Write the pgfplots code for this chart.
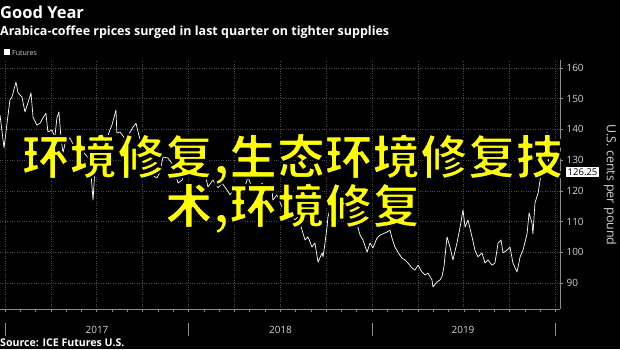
\documentclass[border=0pt]{standalone}
\usepackage{pgfplots}
\pgfplotsset{compat=1.18}
\usepackage{fontspec}
\setmainfont{Open Sans}
\newfontfamily\cjk{Noto Sans CJK SC}
\definecolor{txtgray}{HTML}{D2D2D2}
\definecolor{gridgray}{HTML}{4A4A4A}
\definecolor{axgray}{HTML}{8C8C8C}
\definecolor{cjkyellow}{HTML}{FFFF00}
\newcommand\cjkline[3]{%
  \node[anchor=base, inner sep=0pt, text=cjkyellow, font=\cjk\bfseries\fontsize{47.7}{52}\selectfont] at (#1,#2) {\special{pdf:literal direct 0 0 0 RG 2 Tr 2.2 w 1 j}#3\special{pdf:literal direct 0 Tr}};}
\begin{document}
\begin{tikzpicture}
\useasboundingbox (0pt,0pt) rectangle (620pt,-349pt);
\fill[black] (0pt,0pt) rectangle (620pt,-349pt);
\begin{axis}[
  at={(0pt,-309pt)}, anchor=south west,
  scale only axis, width=560pt, height=249pt,
  xmin=2016.973, xmax=2020.0245, ymin=81.52, ymax=162.6,
  axis x line*=bottom, axis y line*=right,
  axis line style={axgray, line width=0.6pt},
  xtick={2017,2017.25,2017.5,2017.75,2018,2018.25,2018.5,2018.75,2019,2019.25,2019.5,2019.75,2020},
  minor x tick num=2,
  xticklabels={},
  ytick={90,100,110,120,130,140,150,160},
  /pgf/number format/assume math mode=true,
  y tick label style={font=\fontsize{10}{12}\selectfont, text=txtgray},
  tick align=outside,
  major tick length=3pt, minor tick length=3pt,
  tick style={axgray, line width=0.5pt},
  grid=major,
  major grid style={gridgray, dotted, line width=0.6pt},
]
\addplot[white, line width=0.7pt, line join=round] coordinates {
(2016.973,144.7) (2016.995,134) (2017.027,149.6) (2017.038,150.5) (2017.060,155.4)
(2017.071,152) (2017.093,150.5) (2017.109,145.7) (2017.125,148.6) (2017.142,151.9)
(2017.153,144) (2017.174,141.4) (2017.191,142) (2017.207,143.7) (2017.223,145.3)
(2017.234,139.2) (2017.256,139.8) (2017.272,137.5) (2017.283,143.7) (2017.294,145.7)
(2017.305,137.5) (2017.316,132.3) (2017.332,136.6) (2017.354,137.2) (2017.381,134)
(2017.409,135) (2017.436,132) (2017.463,130) (2017.480,117) (2017.490,126.8)
(2017.518,131) (2017.545,135) (2017.572,139.8) (2017.583,141.4) (2017.605,146.3)
(2017.610,138.8) (2017.627,139.2) (2017.654,137) (2017.681,139) (2017.698,140.8)
(2017.714,142) (2017.736,136.6) (2017.763,132) (2017.790,127) (2017.801,125.2)
(2017.828,124.2) (2017.845,126.1) (2017.861,131) (2017.888,130.7) (2017.916,128.4)
(2017.943,122.5) (2017.965,123.5) (2017.981,125.8) (2017.997,126) (2018.025,125.8)
(2018.063,124) (2018.090,125.8) (2018.106,121.3) (2018.134,123.5) (2018.161,121)
(2018.183,122.5) (2018.210,120.3) (2018.226,118.7) (2018.243,120.3) (2018.270,121)
(2018.297,119.3) (2018.324,124.5) (2018.346,121) (2018.373,119.6) (2018.401,122.5)
(2018.428,119.6) (2018.455,120.3) (2018.460,117) (2018.482,118.7) (2018.510,114.7)
(2018.526,112.1) (2018.542,111.2) (2018.564,112.1) (2018.580,110.5) (2018.597,111.5)
(2018.619,107.2) (2018.635,104) (2018.651,105) (2018.673,101.7) (2018.689,103)
(2018.706,96.8) (2018.728,99.8) (2018.733,98.5) (2018.744,103) (2018.755,108.2)
(2018.760,111.5) (2018.782,116.4) (2018.809,114) (2018.837,112) (2018.864,114.7)
(2018.891,116) (2018.907,113.8) (2018.924,108) (2018.935,105.6) (2018.951,104)
(2018.973,100) (2018.989,103) (2019.005,101.4) (2019.027,104.6) (2019.044,105.6)
(2019.060,106) (2019.082,106.6) (2019.098,107.2) (2019.109,104.6) (2019.125,101.7)
(2019.142,100) (2019.163,98.1) (2019.180,97.5) (2019.196,96.5) (2019.218,94.9)
(2019.234,94.2) (2019.251,95.8) (2019.272,93.6) (2019.289,92.6) (2019.305,93.2)
(2019.327,91) (2019.332,88.7) (2019.354,90.3) (2019.371,91) (2019.381,92)
(2019.392,95.2) (2019.403,101.7) (2019.409,105) (2019.425,101.7) (2019.441,97.5)
(2019.463,103) (2019.480,108.2) (2019.496,113.8) (2019.507,108.2) (2019.523,110.5)
(2019.545,105) (2019.561,100.7) (2019.578,98.5) (2019.599,99.8) (2019.616,96.5)
(2019.632,97.5) (2019.654,95.8) (2019.670,96.5) (2019.687,103) (2019.703,104)
(2019.714,99.8) (2019.736,100.7) (2019.752,101.7) (2019.768,96.5) (2019.790,93.6)
(2019.796,95.2) (2019.807,98.5) (2019.823,100.7) (2019.845,106) (2019.856,112.8)
(2019.872,109.5) (2019.877,106) (2019.888,116) (2019.905,119.3) (2019.916,123.5)
(2019.937,130) (2019.943,134) (2019.948,137) (2019.954,139.2) (2019.959,134)
(2019.965,126.25)
};
\end{axis}
% year separators and labels
\foreach \x in {5,188.5,372,555.5}{\draw[axgray, line width=0.6pt] (\x pt,-323pt) -- (\x pt,-336pt);}
\node[anchor=base, inner sep=0pt, text=txtgray, font=\fontsize{10}{12}\selectfont] at (97pt,-333pt) {2017};
\node[anchor=base, inner sep=0pt, text=txtgray, font=\fontsize{10}{12}\selectfont] at (280.5pt,-333pt) {2018};
\node[anchor=base, inner sep=0pt, text=txtgray, font=\fontsize{10}{12}\selectfont] at (463pt,-333pt) {2019};
% titles
\node[anchor=base west, inner sep=0pt, text=white, font=\bfseries\fontsize{16.5}{18}\selectfont] at (0pt,-18.5pt) {Good Year};
\node[anchor=base west, inner sep=0pt, text=white, font=\bfseries\fontsize{12.5}{14}\selectfont] at (0pt,-35pt) {Arabica-coffee rpices surged in last quarter on tighter supplies};
\fill[white] (4pt,-49pt) rectangle (10pt,-55pt);
\node[anchor=base west, inner sep=0pt, text=txtgray, font=\fontsize{7}{8}\selectfont] at (12pt,-55.5pt) {Futures};
\node[anchor=base west, inner sep=0pt, text=white, font=\bfseries\fontsize{10.6}{12}\selectfont] at (0pt,-346.5pt) {Source: ICE Futures U.S.};
\node[rotate=-90, inner sep=0pt, text=txtgray, font=\fontsize{12.5}{14}\selectfont] at (610pt,-185pt) {U.S. cents per pound};
\node[anchor=west, fill=white, text=black, inner xsep=1.5pt, inner ysep=1.2pt, font=\fontsize{9.5}{11}\selectfont] at (566pt,-172pt) {126.25};
% overlay text
\cjkline{292.5pt}{-174.5pt}{环境修复,生态环境修复技}
\cjkline{292.5pt}{-223.5pt}{术,环境修复}
\end{tikzpicture}
\end{document}
